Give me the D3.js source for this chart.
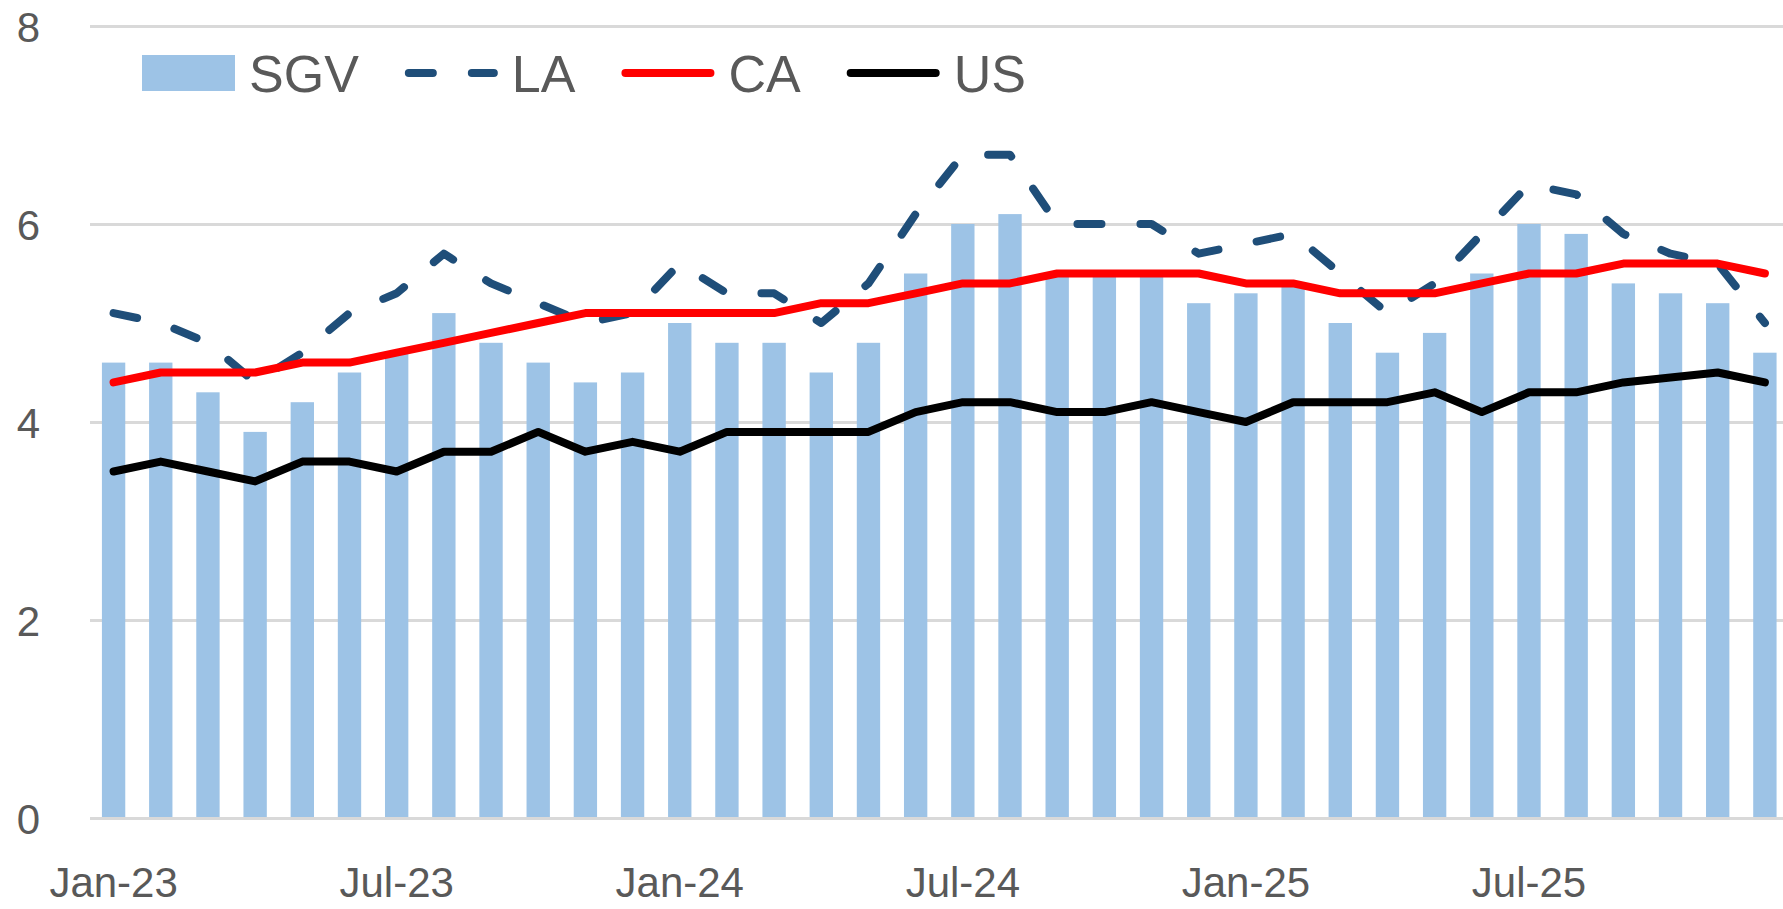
<!DOCTYPE html>
<html>
<head>
<meta charset="utf-8">
<script src="https://cdn.jsdelivr.net/npm/d3@7"></script>
<style>
  html, body { margin: 0; padding: 0; background: #ffffff; }
  svg { display: block; }
</style>
</head>
<body>
<svg id="chart" width="1783" height="909"></svg>
<script>
// ---- data ----
const categories = [
  "Jan-23","Feb-23","Mar-23","Apr-23","May-23","Jun-23","Jul-23","Aug-23","Sep-23","Oct-23","Nov-23","Dec-23",
  "Jan-24","Feb-24","Mar-24","Apr-24","May-24","Jun-24","Jul-24","Aug-24","Sep-24","Oct-24","Nov-24","Dec-24",
  "Jan-25","Feb-25","Mar-25","Apr-25","May-25","Jun-25","Jul-25","Aug-25","Sep-25","Oct-25","Nov-25","Dec-25"
];
const sgv = [4.6,4.6,4.3,3.9,4.2,4.5,4.7,5.1,4.8,4.6,4.4,4.5,
             5.0,4.8,4.8,4.5,4.8,5.5,6.0,6.1,5.5,5.5,5.5,5.2,
             5.3,5.4,5.0,4.7,4.9,5.5,6.0,5.9,5.4,5.3,5.2,4.7];
const la  = [5.1,5.0,4.8,4.4,4.7,5.1,5.3,5.7,5.4,5.2,5.0,5.1,
             5.6,5.3,5.3,5.0,5.4,6.1,6.7,6.7,6.0,6.0,6.0,5.7,
             5.8,5.9,5.5,5.1,5.4,5.9,6.4,6.3,5.9,5.7,5.6,5.0];
const ca  = [4.4,4.5,4.5,4.5,4.6,4.6,4.7,4.8,4.9,5.0,5.1,5.1,
             5.1,5.1,5.1,5.2,5.2,5.3,5.4,5.4,5.5,5.5,5.5,5.5,
             5.4,5.4,5.3,5.3,5.3,5.4,5.5,5.5,5.6,5.6,5.6,5.5];
const us  = [3.5,3.6,3.5,3.4,3.6,3.6,3.5,3.7,3.7,3.9,3.7,3.8,
             3.7,3.9,3.9,3.9,3.9,4.1,4.2,4.2,4.1,4.1,4.2,4.1,
             4.0,4.2,4.2,4.2,4.3,4.1,4.3,4.3,4.4,4.45,4.5,4.4];
const xTickLabels = ["Jan-23","Jul-23","Jan-24","Jul-24","Jan-25","Jul-25"];
const yTicks = [0,2,4,6,8];
const seriesNames = ["SGV","LA","CA","US"];

// ---- layout ----
const plotLeft = 90, step = 47.18;
const plotRight = plotLeft + step * categories.length;
const plotTop = 26, plotBottom = 818;
const FONT = "'Liberation Sans', Arial, sans-serif";
const textColor = "#595959";
const gridColor = "#D9D9D9";
const colors = { SGV: "#9DC3E6", LA: "#1F4E79", CA: "#FF0000", US: "#000000" };
const lineW = 8;
const dash = "24 39";

const svg = d3.select("#chart");

const x = d3.scaleBand().domain(categories).range([plotLeft, plotRight])
  .paddingInner(0.505).paddingOuter(0.2525);
const y = d3.scaleLinear().domain([0, 8]).range([plotBottom, plotTop]);
const cx = c => x(c) + x.bandwidth() / 2;

// gridlines (y axis)
const yAxis = d3.axisLeft(y).tickValues(yTicks).tickSize(-(plotRight - plotLeft)).tickPadding(50).tickFormat(d3.format("d"));
const gy = svg.append("g").attr("transform", `translate(${plotLeft},0)`).call(yAxis);
gy.select(".domain").remove();
gy.selectAll(".tick line").attr("stroke", gridColor).attr("stroke-width", 3);
gy.selectAll(".tick text").attr("fill", textColor).attr("font-family", FONT)
  .attr("font-size", 42).attr("x", -50).attr("dy", "0.36em");

// bars
svg.append("g").selectAll("rect").data(categories).join("rect")
  .attr("x", d => x(d))
  .attr("width", x.bandwidth())
  .attr("y", (d, i) => y(sgv[i]))
  .attr("height", (d, i) => y(0) - y(sgv[i]))
  .attr("fill", colors.SGV);

// x axis
const xAxis = d3.axisBottom(x).tickValues(xTickLabels).tickSize(0).tickPadding(0);
const gx = svg.append("g").attr("transform", `translate(0,${plotBottom})`).call(xAxis);
gx.select(".domain").attr("stroke", gridColor).attr("stroke-width", 3);
gx.selectAll(".tick text").attr("fill", textColor).attr("font-family", FONT)
  .attr("font-size", 42).attr("y", 79).attr("dy", 0);

// lines
const lineGen = vals => d3.line().x((d, i) => cx(categories[i])).y(d => y(d))(vals);
svg.append("path").attr("d", lineGen(la)).attr("fill", "none")
  .attr("stroke", colors.LA).attr("stroke-width", lineW)
  .attr("stroke-dasharray", dash).attr("stroke-linecap", "round").attr("stroke-linejoin", "round");
svg.append("path").attr("d", lineGen(ca)).attr("fill", "none")
  .attr("stroke", colors.CA).attr("stroke-width", lineW)
  .attr("stroke-linecap", "round").attr("stroke-linejoin", "round");
svg.append("path").attr("d", lineGen(us)).attr("fill", "none")
  .attr("stroke", colors.US).attr("stroke-width", lineW)
  .attr("stroke-linecap", "round").attr("stroke-linejoin", "round");

// legend
const lg = svg.append("g");
let lx = 142;
const symW = 93, legY = 73, legFont = 52;
seriesNames.forEach(name => {
  if (name === "SGV") {
    lg.append("rect").attr("x", lx).attr("y", legY - 18).attr("width", symW).attr("height", 36).attr("fill", colors.SGV);
  } else {
    const l = lg.append("line").attr("x1", lx + 4).attr("x2", lx + symW - 4)
      .attr("y1", legY).attr("y2", legY).attr("stroke", colors[name]).attr("stroke-width", lineW)
      .attr("stroke-linecap", "round");
    if (name === "LA") l.attr("stroke-dasharray", dash);
  }
  const t = lg.append("text").attr("x", lx + symW + 14).attr("y", legY + 19)
    .attr("font-family", FONT).attr("font-size", legFont).attr("fill", textColor).text(name);
  lx = lx + symW + 14 + t.node().getComputedTextLength() + 46;
});
</script>
</body>
</html>
